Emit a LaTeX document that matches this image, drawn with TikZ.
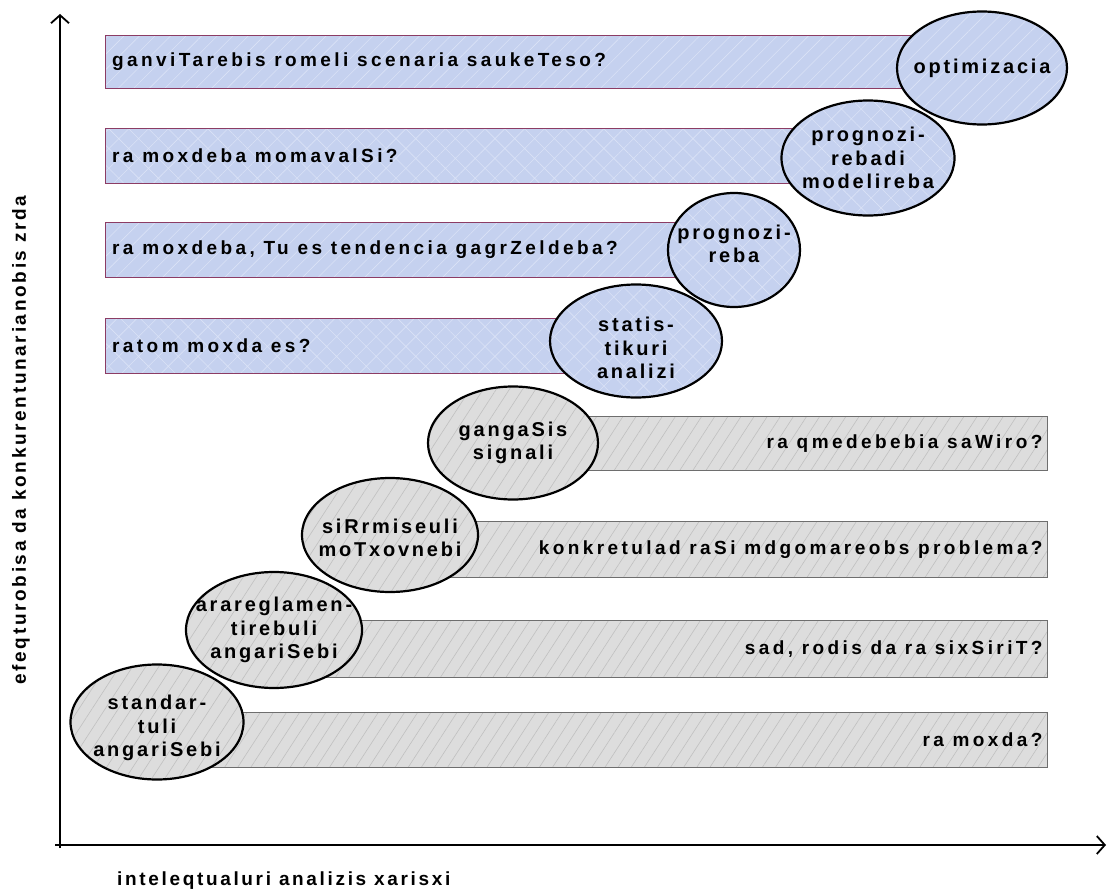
\documentclass[tikz,border=0pt]{standalone}
\usepackage{fontspec}
\setmainfont{Liberation Sans}
\newfontfamily\lab[LetterSpace=14]{Liberation Sans}
\newfontfamily\labw[LetterSpace=18]{Liberation Sans}
\usetikzlibrary{patterns.meta,arrows.meta,shapes.geometric}
\definecolor{bluefill}{RGB}{197,209,239}
\definecolor{bluelines}{RGB}{218,226,246}
\definecolor{barred}{RGB}{140,60,100}
\definecolor{grayfill}{RGB}{221,221,221}
\definecolor{graylines}{RGB}{192,192,192}
\definecolor{grayedge}{RGB}{110,110,110}
\tikzset{
  txt/.style={font=\labw\bfseries\fontsize{19}{23}\selectfont, inner sep=0pt},
  axtxt/.style={font=\lab\bfseries\fontsize{19}{23}\selectfont, inner sep=0pt},
  etxt/.style={font=\lab\bfseries\fontsize{20}{23.5}\selectfont, inner sep=0pt, align=center},
  barbase/.style={anchor=north west, inner sep=0pt, line width=0.8pt},
  bluebar/.style={barbase, draw=barred, preaction={fill=bluefill},
    pattern={Lines[angle=45,distance=11pt,line width=0.6pt]}, pattern color=bluelines},
  bluehatch/.style={barbase, draw=barred, preaction={fill=bluefill},
    pattern={Hatch[angle=45,distance=14pt,line width=0.6pt]}, pattern color=bluelines},
  graybar/.style={barbase, draw=grayedge, preaction={fill=grayfill},
    pattern={Lines[angle=57,distance=11pt,line width=0.6pt]}, pattern color=graylines},
  ellbase/.style={ellipse, draw=black, line width=2.2pt, inner sep=0pt},
  blueell/.style={ellbase, preaction={fill=bluefill},
    pattern={Lines[angle=45,distance=11pt,line width=0.6pt]}, pattern color=bluelines},
  bluehell/.style={ellbase, preaction={fill=bluefill},
    pattern={Hatch[angle=45,distance=14pt,line width=0.6pt]}, pattern color=bluelines},
  grayell/.style={ellbase, preaction={fill=grayfill},
    pattern={Lines[angle=57,distance=11pt,line width=0.6pt]}, pattern color=graylines},
  axis/.style={line width=1.8pt, -{Straight Barb[length=8pt,width=18pt,line width=1.8pt]}}
}
\begin{document}
\begin{tikzpicture}[x=1pt,y=-1pt]
\useasboundingbox (0,0) rectangle (1108,891);
% axes
\coordinate (o1) at (60,848);
\coordinate (ytop) at (60,14);
\coordinate (o2) at (55,845);
\coordinate (xend) at (1106,845);
\draw[axis] (o1) -- (ytop);
\draw[axis] (o2) -- (xend);
\node[axtxt, rotate=90] (ylab) at (21,440) {efeqturobisa da konkurentunarianobis zrda};
\node[axtxt, anchor=west] (xlab) at (117,881) {inteleqtualuri analizis xarisxi};
% bars
\node[bluebar, minimum width=855pt, minimum height=53pt] (b1) at (105,35) {};
\node[bluehatch, minimum width=745pt, minimum height=55pt] (b2) at (105,128) {};
\node[bluebar, minimum width=615pt, minimum height=55pt] (b3) at (105,222) {};
\node[bluehatch, minimum width=515pt, minimum height=55pt] (b4) at (105,318) {};
\node[graybar, minimum width=527pt, minimum height=54pt] (g5) at (520,416) {};
\node[graybar, minimum width=657pt, minimum height=56pt] (g6) at (390,521) {};
\node[graybar, minimum width=773pt, minimum height=57pt] (g7) at (274,620) {};
\node[graybar, minimum width=890pt, minimum height=55pt] (g8) at (157,712) {};
\node[txt, anchor=west] (t1) at ([xshift=7pt]b1.west) {ganviTarebis romeli scenaria saukeTeso?};
\node[txt, anchor=west] (t2) at ([xshift=7pt]b2.west) {ra moxdeba momavalSi?};
\node[txt, anchor=west] (t3) at ([xshift=7pt]b3.west) {ra moxdeba, Tu es tendencia gagrZeldeba?};
\node[txt, anchor=west] (t4) at ([xshift=7pt]b4.west) {ratom moxda es?};
\node[txt, anchor=east] (t5) at ([xshift=-5pt]g5.east) {ra qmedebebia saWiro?};
\node[txt, anchor=east] (t6) at ([xshift=-5pt]g6.east) {konkretulad raSi mdgomareobs problema?};
\node[txt, anchor=east] (t7) at ([xshift=-5pt]g7.east) {sad, rodis da ra sixSiriT?};
\node[txt, anchor=east] (t8) at ([xshift=-5pt]g8.east) {ra moxda?};
% ellipses
\node[blueell, minimum width=170pt, minimum height=113pt] (e1) at (982,68) {};
\node[etxt] (e1t) at (e1) {optimizacia};
\node[bluehell, minimum width=173pt, minimum height=115pt] (e2) at (868,158) {};
\node[etxt] (e2t) at (e2) {prognozi-\\rebadi\\modelireba};
\node[bluehell, minimum width=132pt, minimum height=114pt] (e3) at (734,250) {};
\node[etxt] (e3t) at ([yshift=6pt]e3) {prognozi-\\reba};
\node[bluehell, minimum width=172pt, minimum height=113pt] (e4) at (636,341) {};
\node[etxt] (e4t) at ([yshift=-7pt]e4) {statis-\\tikuri\\analizi};
\node[grayell, minimum width=170pt, minimum height=113pt] (e5) at (513,443) {};
\node[etxt] (e5t) at (e5) {gangaSis\\signali};
\node[grayell, minimum width=176pt, minimum height=114pt] (e6) at (390,535) {};
\node[etxt] (e6t) at ([yshift=-3pt]e6) {siRrmiseuli\\moTxovnebi};
\node[grayell, minimum width=176pt, minimum height=116pt] (e7) at (274,630) {};
\node[etxt] (e7t) at (e7) {araregla\-men-\\tirebuli\\angariSebi};
\node[grayell, minimum width=173pt, minimum height=115pt] (e8) at (157,722) {};
\node[etxt] (e8t) at ([yshift=-6pt]e8) {standar-\\tuli\\angariSebi};
\end{tikzpicture}
\end{document}
